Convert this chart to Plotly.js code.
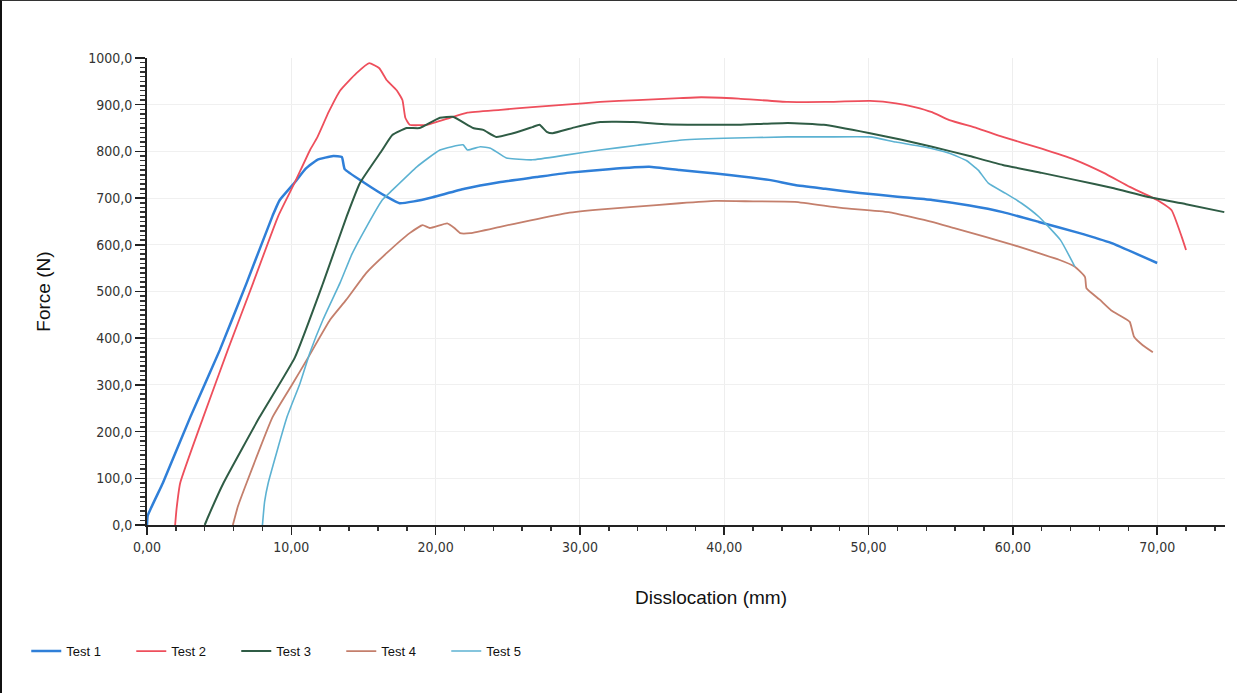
<!DOCTYPE html>
<html>
<head>
<meta charset="utf-8">
<script src="https://cdn.plot.ly/plotly-3.0.1.min.js"></script>
<style>
  html, body { margin: 0; padding: 0; background: #fff; }
  #chart { width: 1237px; height: 693px; }
  #frame { position: absolute; left: 0; top: 0; width: 1237px; height: 693px;
           border-left: 2px solid #111; border-top: 1px solid #333; box-sizing: border-box; pointer-events: none; }
</style>
</head>
<body>
<div id="chart"></div>
<div id="frame"></div>
<script>
// Force (N) vs Disslocation (mm), five tests
const seriesNames = ["Test 1", "Test 2", "Test 3", "Test 4", "Test 5"];

const test1X = [0, 0.05, 1.1, 3.0, 5.05, 6.9, 8.7, 9.2, 10.25, 11.0, 11.8, 12.9, 13.5, 13.7, 15.0, 16.6, 17.5, 18.5, 19.8, 22, 24.4, 27, 29.1, 32, 34.8, 36.9, 38.3, 40.5, 43.1, 44.9, 47, 49.4, 52, 54.4, 57, 59.3, 61.8, 64.5, 66.8, 70.0];
const test1Y = [0, 20, 90, 231, 375, 518, 662, 696, 734, 763, 782, 790, 788, 762, 734, 703, 689, 693, 702, 720, 734, 745, 754, 762, 767, 760, 756, 749, 739, 728, 720, 711, 703, 696, 684, 670, 649, 626, 604, 561];

const test2X = [1.95, 2.05, 2.3, 3.9, 5.6, 7.35, 9.1, 10.25, 11.3, 11.8, 12.6, 13.4, 14.5, 15.4, 16.1, 16.6, 17.3, 17.7, 17.9, 18.2, 19.4, 21.0, 22.2, 24.5, 26.7, 29, 31.4, 34, 36.9, 38.4, 41, 44.4, 47, 50.1, 51.9, 53.2, 54.4, 55.6, 57.5, 59.3, 62, 64.3, 66.3, 68.1, 70, 71, 71.7, 72.0];
const test2Y = [0, 35, 90, 231, 375, 518, 662, 734, 803, 830, 885, 931, 967, 989, 978, 953, 931, 910, 872, 857, 857, 872, 883, 889, 895, 900, 906, 910, 914, 916, 913, 906, 906, 908, 903, 895, 884, 867, 850, 831, 806, 782, 754, 724, 696, 674, 617, 589];

const test3X = [4.0, 4.2, 5.3, 7.8, 10.25, 12.2, 13.85, 14.75, 16.3, 17.0, 18.0, 18.9, 20.3, 21.2, 22.6, 23.3, 24.2, 25.5, 26.7, 27.2, 27.7, 28.1, 29.7, 31.4, 33.7, 36, 38.3, 41, 44.4, 46.9, 50.1, 52.3, 54.4, 57, 59.3, 62, 64.3, 67, 69.3, 72, 74.65];
const test3Y = [0, 15, 90, 231, 359, 518, 662, 732, 803, 835, 850, 850, 872, 874, 850, 846, 831, 840, 852, 857, 842, 839, 852, 863, 863, 858, 857, 857, 861, 857, 839, 825, 810, 790, 771, 754, 739, 721, 703, 687, 670];

const test4X = [5.95, 6.3, 6.9, 8.7, 10.1, 11.1, 12.7, 13.8, 15.2, 16.6, 18.2, 19.1, 19.6, 20.8, 21.3, 21.7, 22.4, 24.4, 26.5, 29.1, 31.5, 33.7, 36.9, 39.4, 42, 44.9, 48.1, 51.4, 54.4, 56, 58.1, 60, 61.8, 63.2, 64.3, 65.0, 65.1, 66.0, 66.8, 67.5, 68.1, 68.4, 69.0, 69.7];
const test4Y = [0, 40, 90, 231, 303, 355, 440, 482, 540, 582, 625, 642, 636, 646, 636, 625, 625, 638, 652, 668, 676, 681, 689, 694, 693, 692, 679, 670, 649, 635, 617, 600, 582, 568, 553, 531, 507, 483, 460, 447, 435, 403, 385, 370];

const test5X = [8.0, 8.15, 8.4, 9.7, 10.6, 11.3, 12.2, 13.4, 14.2, 15.2, 16.3, 17.0, 18.7, 20.3, 21.9, 22.2, 23.1, 23.8, 24.9, 26.7, 29, 31.4, 34, 36.9, 40, 44.4, 47, 50.1, 51.9, 53.8, 55.6, 56.8, 57.6, 58.3, 59.5, 60.6, 61.8, 63.3, 64.3];
const test5Y = [0, 50, 90, 231, 303, 370, 440, 520, 580, 638, 696, 717, 767, 803, 814, 803, 810, 807, 786, 782, 792, 803, 813, 824, 828, 831, 831, 831, 820, 810, 796, 780, 760, 732, 710, 689, 660, 610, 553];

const xTitle = "Disslocation (mm)";
const yTitle = "Force (N)";

const colors = ["#2f7fd8", "#ee4f5c", "#2f5c45", "#c47f6c", "#5cb2d2"];
const widths = [2.5, 1.8, 2, 1.8, 1.6];
const xs = [test1X, test2X, test3X, test4X, test5X];
const ys = [test1Y, test2Y, test3Y, test4Y, test5Y];

const traces = seriesNames.map((n, i) => ({
  type: "scatter", mode: "lines", name: n,
  x: xs[i], y: ys[i],
  line: { color: colors[i], width: widths[i], shape: "spline", smoothing: 0.4 }
}));

const tickFont = { family: "Liberation Sans Narrow, DejaVu Sans Condensed, sans-serif", size: 14, color: "#333" };

const layout = {
  width: 1237, height: 693,
  margin: { l: 147, r: 12, t: 58, b: 168 },
  paper_bgcolor: "#fff", plot_bgcolor: "#fff",
  separators: ",.",
  showlegend: true,
  legend: {
    orientation: "h", x: -0.112, xanchor: "left", y: -0.27, yanchor: "middle",
    font: { family: "Liberation Sans, Arial, sans-serif", size: 13, color: "#111" },
    entrywidth: 60, entrywidthmode: "pixels", bgcolor: "rgba(0,0,0,0)"
  },
  xaxis: {
    range: [0, 74.7], dtick: 10, tick0: 0, tickformat: ".2f",
    showline: true, linecolor: "#222", linewidth: 2,
    ticks: "outside", ticklen: 8, tickwidth: 1.5, tickcolor: "#222",
    minor: { dtick: 2, ticks: "outside", ticklen: 4, tickcolor: "#333", showgrid: false },
    showgrid: true, gridcolor: "#eeeeee", gridwidth: 1, zeroline: false,
    tickfont: tickFont, fixedrange: true
  },
  yaxis: {
    range: [0, 1000], dtick: 100, tick0: 0, tickformat: ".1f",
    showline: true, linecolor: "#222", linewidth: 2,
    ticks: "outside", ticklen: 10, tickwidth: 1.5, tickcolor: "#222",
    minor: { dtick: 10, ticks: "outside", ticklen: 5, tickcolor: "#333", showgrid: false },
    showgrid: true, gridcolor: "#f0f0f0", gridwidth: 1, zeroline: false,
    tickfont: tickFont, fixedrange: true,
    title: { text: yTitle, standoff: 32, font: { family: "Liberation Sans, Arial, sans-serif", size: 19, color: "#111" } }
  },
  annotations: [{
    text: xTitle, xref: "paper", yref: "paper", x: 0.523, y: -0.155,
    xanchor: "center", yanchor: "middle", showarrow: false,
    font: { family: "Liberation Sans, Arial, sans-serif", size: 19, color: "#111" }
  }]
};

Plotly.newPlot("chart", traces, layout, { displayModeBar: false, staticPlot: true });
</script>
</body>
</html>
